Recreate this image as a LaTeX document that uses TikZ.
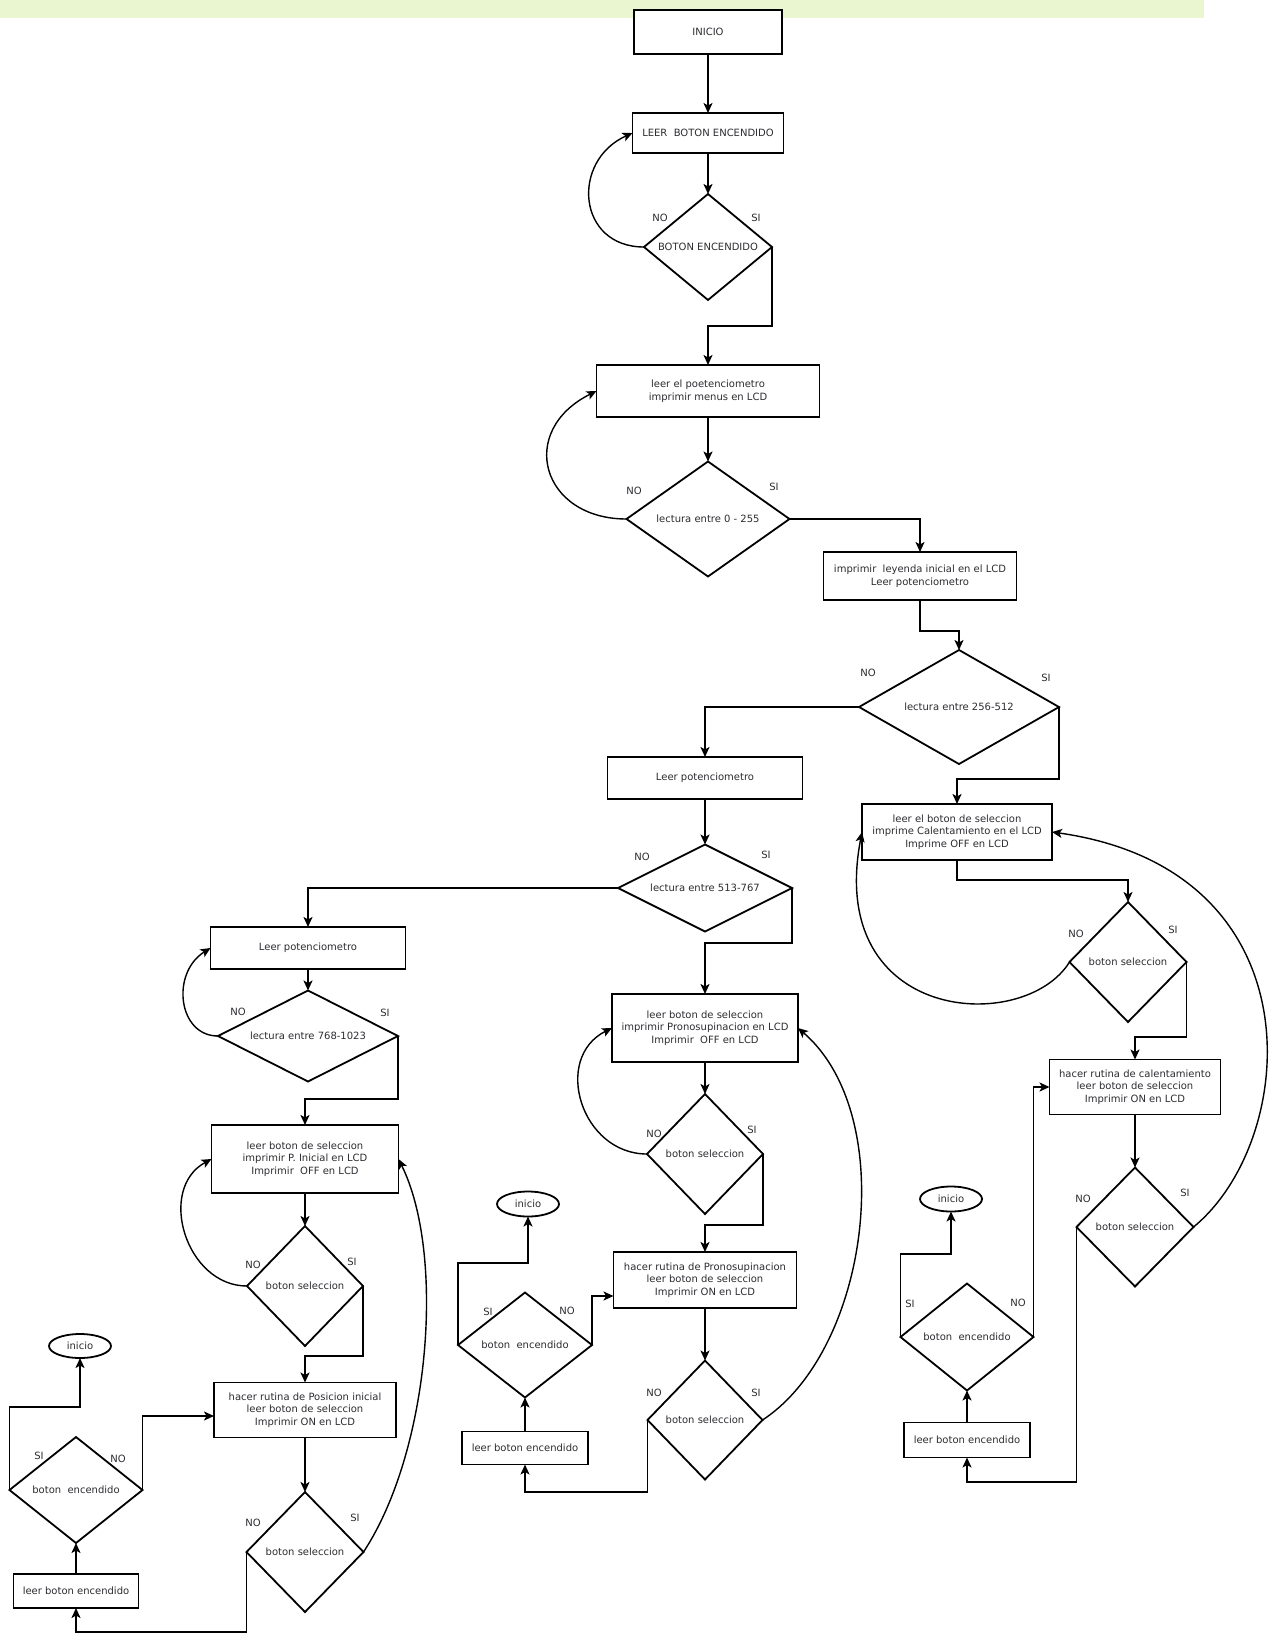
\documentclass[tikz,border=0pt]{standalone}
\usepackage{fontspec}
\setmainfont{DejaVu Sans}
\usetikzlibrary{shapes.geometric, arrows.meta, calc}
\definecolor{barcol}{RGB}{234,246,208}
\definecolor{txt}{RGB}{45,45,50}
\begin{document}
\begin{tikzpicture}[x=1pt,y=-1pt,
  every node/.style={font=\fontsize{10}{12.6}\selectfont, text=txt},
  box/.style={draw, line width=1.8pt, rectangle, align=center, inner sep=0pt, outer sep=0pt},
  dec/.style={draw, line width=1.8pt, diamond, inner sep=0pt, outer sep=0pt},
  oval/.style={draw, line width=1.8pt, ellipse, inner sep=0pt, outer sep=0pt},
  conn/.style={line width=1.8pt, -{Stealth[length=10pt,width=9pt,inset=2.5pt]}},
  curv/.style={line width=1.4pt, -{Stealth[length=10pt,width=9pt,inset=2.5pt]}},
]
\useasboundingbox (0,0) rectangle (1273,1635);
\fill[white] (0,0) rectangle (1273,1635);
\fill[barcol] (0,0) rectangle (1204,18);

% ---------- top column ----------
\node[box, fill=white, minimum width=148pt, minimum height=44pt] (inicio) at (708,32) {INICIO};
\node[box, minimum width=151pt, minimum height=40pt] (b1) at (708,133) {LEER\ \ BOTON ENCENDIDO};
\node[dec, minimum width=128pt, minimum height=106pt] (d1) at (708,247) {};
\node (t1) at (d1) {BOTON ENCENDIDO};
\node[box, minimum width=223pt, minimum height=52pt] (b2) at (708,391) {leer el poetenciometro\\imprimir menus en LCD};
\node[dec, minimum width=163pt, minimum height=115pt] (d2) at (708,519) {};
\node (t2) at (d2) {lectura entre 0 - 255};
\node[box, minimum width=193pt, minimum height=48pt] (b3) at (920,576) {imprimir\ \ leyenda inicial en el LCD\\Leer potenciometro};
\node[dec, minimum width=200pt, minimum height=114pt] (d3) at (959,707) {};
\node (t3) at (d3) {lectura entre 256-512};
\node[box, minimum width=195pt, minimum height=42pt] (b4) at (705,778) {Leer potenciometro};
\node[dec, minimum width=174pt, minimum height=87pt] (d4) at (705,888) {};
\node (t4) at (d4) {lectura entre 513-767};

% ---------- right column ----------
\node[box, minimum width=190pt, minimum height=56pt] (b5) at (957,832) {leer el boton de seleccion\\imprime Calentamiento en el LCD\\Imprime OFF en LCD};
\node[dec, minimum width=117pt, minimum height=120pt] (d12) at (1128,962) {};
\node (t12) at (d12) {boton seleccion};
\node[box, minimum width=171pt, minimum height=55pt] (b13) at (1135,1087) {hacer rutina de calentamiento\\leer boton de seleccion\\Imprimir ON en LCD};
\node[dec, minimum width=117pt, minimum height=119pt] (d13) at (1135,1227) {};
\node (t13) at (d13) {boton seleccion};
\node[box, minimum width=126pt, minimum height=35pt] (b14) at (967,1440) {leer boton encendido};
\node[dec, minimum width=133pt, minimum height=107pt] (d14) at (967,1337) {};
\node (t14) at (d14) {boton\ \ encendido};
\node[oval, minimum width=62pt, minimum height=25pt] (e3) at (951,1199) {inicio};

% ---------- middle column ----------
\node[box, minimum width=186pt, minimum height=68pt] (b7) at (705,1028) {leer boton de seleccion\\imprimir Pronosupinacion en LCD\\Imprimir\ \ OFF en LCD};
\node[dec, minimum width=116pt, minimum height=120pt] (d9) at (705,1154) {};
\node (t9) at (d9) {boton seleccion};
\node[box, minimum width=183pt, minimum height=56pt] (b11) at (705,1280) {hacer rutina de Pronosupinacion\\leer boton de seleccion\\Imprimir ON en LCD};
\node[dec, minimum width=115pt, minimum height=119pt] (d10) at (705,1420) {};
\node (t10) at (d10) {boton seleccion};
\node[box, minimum width=126pt, minimum height=33pt] (b12) at (525,1448) {leer boton encendido};
\node[dec, minimum width=134pt, minimum height=105pt] (d11) at (525,1345) {};
\node (t11) at (d11) {boton\ \ encendido};
\node[oval, minimum width=62pt, minimum height=25pt] (e2) at (528,1204) {inicio};

% ---------- left column ----------
\node[box, minimum width=195pt, minimum height=42pt] (b6) at (308,948) {Leer potenciometro};
\node[dec, minimum width=180pt, minimum height=91pt] (d5) at (308,1036) {};
\node (t5) at (d5) {lectura entre 768-1023};
\node[box, minimum width=187pt, minimum height=68pt] (b8) at (305,1159) {leer boton de seleccion\\imprimir P. Inicial en LCD\\Imprimir\ \ OFF en LCD};
\node[dec, minimum width=116pt, minimum height=120pt] (d6) at (305,1286) {};
\node (t6) at (d6) {boton seleccion};
\node[box, minimum width=182pt, minimum height=55pt] (b9) at (305,1410) {hacer rutina de Posicion inicial\\leer boton de seleccion\\Imprimir ON en LCD};
\node[dec, minimum width=117pt, minimum height=120pt] (d7) at (305,1552) {};
\node (t7) at (d7) {boton seleccion};
\node[box, minimum width=125pt, minimum height=34pt] (b10) at (76,1591) {leer boton encendido};
\node[dec, minimum width=133pt, minimum height=106pt] (d8) at (76,1490) {};
\node (t8) at (d8) {boton\ \ encendido};
\node[oval, minimum width=62pt, minimum height=24pt] (e1) at (80,1346) {inicio};

% ---------- SI / NO labels ----------
\node (n1) at (660,218) {NO};   \node (s1) at (756,218) {SI};
\node (n2) at (634,491) {NO};   \node (s2) at (774,487) {SI};
\node (n3) at (868,673) {NO};   \node (s3) at (1046,678) {SI};
\node (n4) at (642,857) {NO};   \node (s4) at (766,855) {SI};
\node (n5) at (238,1012) {NO};  \node (s5) at (385,1013) {SI};
\node (n6) at (253,1265) {NO};  \node (s6) at (352,1262) {SI};
\node (n7) at (253,1523) {NO};  \node (s7) at (355,1518) {SI};
\node (s8) at (39,1456) {SI};   \node (n8) at (118,1459) {NO};
\node (n9) at (654,1134) {NO};  \node (s9) at (752,1130) {SI};
\node (n10) at (654,1393) {NO}; \node (s10) at (756,1393) {SI};
\node (s11) at (488,1312) {SI}; \node (n11) at (567,1311) {NO};
\node (n12) at (1076,934) {NO}; \node (s12) at (1173,930) {SI};
\node (n13) at (1083,1199) {NO};\node (s13) at (1185,1193) {SI};
\node (s14) at (910,1304) {SI}; \node (n14) at (1018,1303) {NO};

% ---------- connectors: top ----------
\draw[conn] (inicio) -- (b1);
\draw[conn] (b1) -- (d1);
\draw[curv] (d1.west) .. controls +(-67,0) and +(-62,28) .. (b1.west);
\draw[conn] (d1.east) -- ++(0,79) -| (b2.north);
\draw[conn] (b2) -- (d2);
\draw[curv] (d2.west) .. controls +(-85,0) and +(-80,40) .. (b2.west);
\draw[conn] (d2.east) -| (b3.north);
\draw[conn] (b3.south) -- ++(0,31) -| (d3.north);
\draw[conn] (d3.west) -| (b4.north);
\draw[conn] (d3.east) -- ++(0,72) -| (b5.north);
\draw[conn] (b4) -- (d4);
\draw[conn] (d4.west) -| (b6.north);
\draw[conn] (d4.east) -- ++(0,55) -| (b7.north);

% ---------- connectors: right ----------
\draw[conn] (b5.south) -- ++(0,20) -| (d12.north);
\draw[curv] (d12.west) .. controls +(-45,73) and +(-37,192) .. (b5.west);
\draw[conn] (d12.east) -- ++(0,75) -| (b13.north);
\draw[conn] (b13) -- (d13);
\draw[curv] (d13.east) .. controls +(106,-87) and +(268,38) .. (b5.east);
\draw[conn] (d13.west) -- ++(0,255) -| (b14.south);
\draw[conn] (b14) -- (d14);
\draw[conn] (d14.west) -- ++(0,-83) -| (e3.south);
\draw[conn] (d14.east) |- (b13.west);

% ---------- connectors: middle ----------
\draw[conn] (b7) -- (d9);
\draw[curv] (d9.west) .. controls +(-66,0) and +(-60,30) .. (b7.west);
\draw[conn] (d9.east) -- ++(0,71) -| (b11.north);
\draw[conn] (b11) -- (d10);
\draw[curv] (d10.east) .. controls +(107,-70) and +(102,88) .. (b7.east);
\draw[conn] (d10.west) -- ++(0,72) -| (b12.south);
\draw[conn] (b12) -- (d11);
\draw[conn] (d11.west) -- ++(0,-82) -| (e2.south);
\draw[conn] (d11.east) |- ($(b11.west)+(0,16)$);

% ---------- connectors: left ----------
\draw[conn] (b6) -- (d5);
\draw[curv] (d5.west) .. controls +(-40,0) and +(-40,25) .. (b6.west);
\draw[conn] (d5.east) -- ++(0,63) -| (b8.north);
\draw[conn] (b8) -- (d6);
\draw[curv] (d6.west) .. controls +(-61,0) and +(-55,30) .. (b8.west);
\draw[conn] (d6.east) -- ++(0,70) -| (b9.north);
\draw[conn] (b9) -- (d7);
\draw[curv] (d7.east) .. controls +(67,-102) and +(47,95) .. (b8.east);
\draw[conn] (d7.west) -- ++(0,80) -| (b10.south);
\draw[conn] (b10) -- (d8);
\draw[conn] (d8.west) -- ++(0,-83) -| (e1.south);
\draw[conn] (d8.east) |- ($(b9.west)+(0,6)$);
\end{tikzpicture}
\end{document}
